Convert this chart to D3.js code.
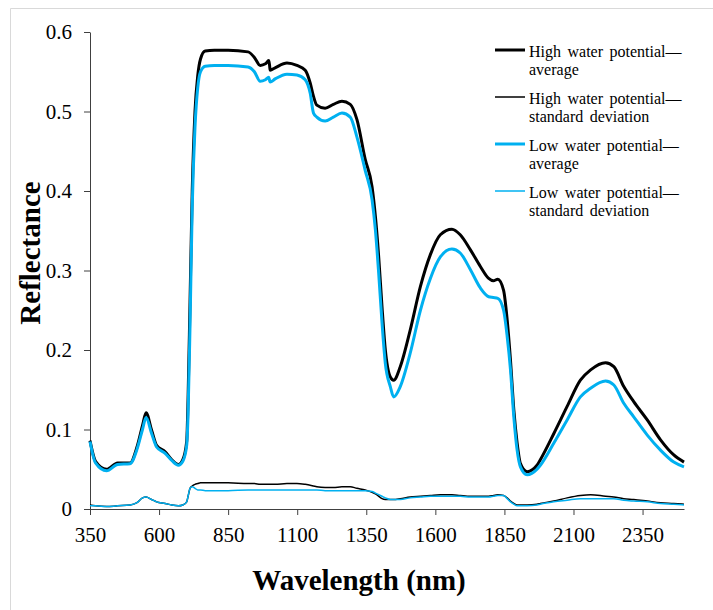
<!DOCTYPE html>
<html>
<head>
<meta charset="utf-8">
<script src="https://cdn.jsdelivr.net/npm/d3@7"></script>
<style>
  body { margin: 0; background: #fff; }
  svg { display: block; font-family: "Liberation Serif", "Times New Roman", serif; }
</style>
</head>
<body>
<svg id="chart" width="713" height="610"></svg>
<script>
// wavelengths (nm) shared by all four spectra
var wavelength = [350, 370, 410, 450, 495, 520, 540, 553, 573, 591, 622, 646, 670, 686, 700, 705, 712, 720, 730, 740,
  750, 767, 800, 850, 922, 945, 966, 985, 997, 1000, 1002, 1020, 1063, 1099, 1129, 1147, 1159, 1171, 1201, 1231,
  1262, 1292, 1316, 1346, 1371, 1383, 1395, 1407, 1419, 1437, 1449, 1473, 1509, 1546, 1582, 1618, 1660, 1690, 1727, 1763,
  1793, 1810, 1826, 1847, 1860, 1872, 1884, 1896, 1908, 1932, 1968, 1980, 2029, 2077, 2125, 2162, 2216, 2246, 2282, 2318,
  2367, 2415, 2463, 2500];

var highAvg = [0.086, 0.060, 0.050, 0.058, 0.058, 0.078, 0.105, 0.121, 0.099, 0.080, 0.072, 0.062, 0.056, 0.062, 0.085, 0.14, 0.26, 0.40, 0.50, 0.545,
  0.566, 0.576, 0.577, 0.577, 0.575, 0.568, 0.558, 0.560, 0.564, 0.558, 0.552, 0.555, 0.561, 0.558, 0.552, 0.536, 0.519, 0.508, 0.504, 0.509,
  0.513, 0.509, 0.490, 0.440, 0.405, 0.368, 0.317, 0.254, 0.200, 0.166, 0.162, 0.179, 0.225, 0.280, 0.320, 0.345, 0.352, 0.345, 0.326, 0.305,
  0.290, 0.287, 0.289, 0.275, 0.238, 0.187, 0.125, 0.083, 0.057, 0.047, 0.055, 0.062, 0.095, 0.129, 0.162, 0.175, 0.184, 0.179, 0.154, 0.135,
  0.112, 0.087, 0.068, 0.059];

var highStd = [0.005, 0.004, 0.003, 0.004, 0.005, 0.008, 0.014, 0.015, 0.012, 0.009, 0.007, 0.005, 0.004, 0.005, 0.009, 0.016, 0.026, 0.029, 0.031, 0.032,
  0.033, 0.033, 0.033, 0.033, 0.032, 0.032, 0.031, 0.031, 0.031, 0.031, 0.031, 0.031, 0.032, 0.032, 0.031, 0.030, 0.029, 0.028, 0.027, 0.027,
  0.028, 0.028, 0.026, 0.024, 0.021, 0.019, 0.016, 0.013, 0.012, 0.012, 0.012, 0.013, 0.015, 0.016, 0.017, 0.018, 0.018, 0.017, 0.016, 0.016,
  0.016, 0.017, 0.018, 0.017, 0.014, 0.010, 0.007, 0.005, 0.005, 0.005, 0.006, 0.007, 0.010, 0.014, 0.017, 0.018, 0.016, 0.015, 0.013, 0.012,
  0.010, 0.008, 0.007, 0.006];

var lowAvg = [0.085, 0.058, 0.048, 0.056, 0.057, 0.075, 0.100, 0.115, 0.095, 0.078, 0.070, 0.061, 0.055, 0.060, 0.080, 0.12, 0.23, 0.38, 0.48, 0.53,
  0.550, 0.557, 0.558, 0.558, 0.556, 0.550, 0.538, 0.540, 0.543, 0.539, 0.537, 0.541, 0.547, 0.546, 0.540, 0.523, 0.498, 0.493, 0.488, 0.493,
  0.498, 0.493, 0.468, 0.426, 0.389, 0.351, 0.296, 0.234, 0.183, 0.154, 0.141, 0.154, 0.196, 0.250, 0.290, 0.317, 0.327, 0.322, 0.301, 0.278,
  0.267, 0.266, 0.265, 0.250, 0.217, 0.175, 0.116, 0.074, 0.053, 0.043, 0.050, 0.055, 0.083, 0.112, 0.141, 0.152, 0.161, 0.156, 0.133, 0.116,
  0.093, 0.074, 0.059, 0.053];

var lowStd = [0.004, 0.004, 0.003, 0.004, 0.005, 0.008, 0.014, 0.015, 0.012, 0.009, 0.007, 0.005, 0.004, 0.005, 0.009, 0.016, 0.026, 0.028, 0.026, 0.024,
  0.024, 0.023, 0.023, 0.023, 0.024, 0.024, 0.024, 0.024, 0.024, 0.024, 0.024, 0.024, 0.024, 0.024, 0.024, 0.024, 0.024, 0.024, 0.023, 0.023,
  0.023, 0.023, 0.023, 0.023, 0.022, 0.020, 0.018, 0.016, 0.014, 0.012, 0.012, 0.012, 0.014, 0.015, 0.016, 0.016, 0.016, 0.016, 0.015, 0.015,
  0.015, 0.016, 0.017, 0.017, 0.013, 0.009, 0.006, 0.004, 0.004, 0.004, 0.005, 0.006, 0.009, 0.011, 0.013, 0.013, 0.013, 0.013, 0.011, 0.010,
  0.009, 0.007, 0.006, 0.005];

var seriesNames = [["High water potential\u2014", "average"], ["High water potential\u2014", "standard deviation"],
  ["Low water potential\u2014", "average"], ["Low water potential\u2014", "standard deviation"]];

var xTicks = [350, 600, 850, 1100, 1350, 1600, 1850, 2100, 2350];
var yTicks = [0, 0.1, 0.2, 0.3, 0.4, 0.5, 0.6];

var svg = d3.select("#chart");

// outer frame (only top and left edges are inside the picture)
svg.append("path")
    .attr("d", "M10.5,615V8.5H720")
    .attr("fill", "none")
    .attr("stroke", "#d9d9d9")
    .attr("stroke-width", 1);

var x = d3.scaleLinear().domain([350, 2500]).range([90, 684]);
var y = d3.scaleLinear().domain([0, 0.6]).range([509, 32]);

var xAxis = svg.append("g")
    .attr("transform", "translate(0,509)")
    .call(d3.axisBottom(x).tickValues(xTicks).tickSize(6).tickSizeOuter(0).tickFormat(d3.format("d")));
xAxis.selectAll("text")
    .attr("y", 33).attr("dy", null)
    .attr("font-size", 21).attr("fill", "#000")
    .attr("font-family", "Liberation Serif, Times New Roman, serif");

var yAxis = svg.append("g")
    .attr("transform", "translate(90,0)")
    .call(d3.axisLeft(y).tickValues(yTicks).tickSize(6).tickSizeOuter(0)
      .tickFormat(function(d) { return d === 0 ? "0" : d3.format(".1f")(d); }));
yAxis.selectAll("text")
    .attr("x", -18)
    .attr("font-size", 21).attr("fill", "#000")
    .attr("font-family", "Liberation Serif, Times New Roman, serif");

svg.selectAll(".domain, .tick line").attr("stroke", "#404040");

var series = [
  {values: highAvg, color: "#000000", width: 3},
  {values: highStd, color: "#000000", width: 1.5},
  {values: lowAvg, color: "#00B0F0", width: 3},
  {values: lowStd, color: "#00B0F0", width: 1.5}
];

var line = d3.line()
    .x(function(d) { return x(d[0]); })
    .y(function(d) { return y(d[1]); })
    .curve(d3.curveMonotoneX);

svg.append("g").selectAll("path")
    .data(series)
    .enter().append("path")
    .attr("fill", "none")
    .attr("stroke", function(d) { return d.color; })
    .attr("stroke-width", function(d) { return d.width; })
    .attr("stroke-linejoin", "round")
    .attr("d", function(d) { return line(d3.zip(wavelength, d.values)); });

// axis titles
svg.append("text")
    .attr("x", 359).attr("y", 590)
    .attr("text-anchor", "middle")
    .attr("font-size", 29).attr("font-weight", "bold")
    .text("Wavelength (nm)");

svg.append("text")
    .attr("transform", "translate(40,253) rotate(-90)")
    .attr("text-anchor", "middle")
    .attr("font-size", 29).attr("font-weight", "bold")
    .text("Reflectance");

// legend
var legend = svg.append("g")
    .selectAll("g")
    .data(series)
    .enter().append("g")
    .attr("transform", function(d, i) { return "translate(0," + (50 + i * 47) + ")"; });

legend.append("line")
    .attr("x1", 495).attr("x2", 525)
    .attr("stroke", function(d) { return d.color; })
    .attr("stroke-width", function(d) { return d.width; });

legend.append("text")
    .attr("x", 529)
    .attr("font-size", 16)
    .attr("word-spacing", 2.5)
    .selectAll("tspan")
    .data(function(d, i) { return seriesNames[i]; })
    .enter().append("tspan")
    .attr("x", 529)
    .attr("y", function(d, j) { return 6.5 + j * 18.5; })
    .text(function(d) { return d; });
</script>
</body>
</html>
